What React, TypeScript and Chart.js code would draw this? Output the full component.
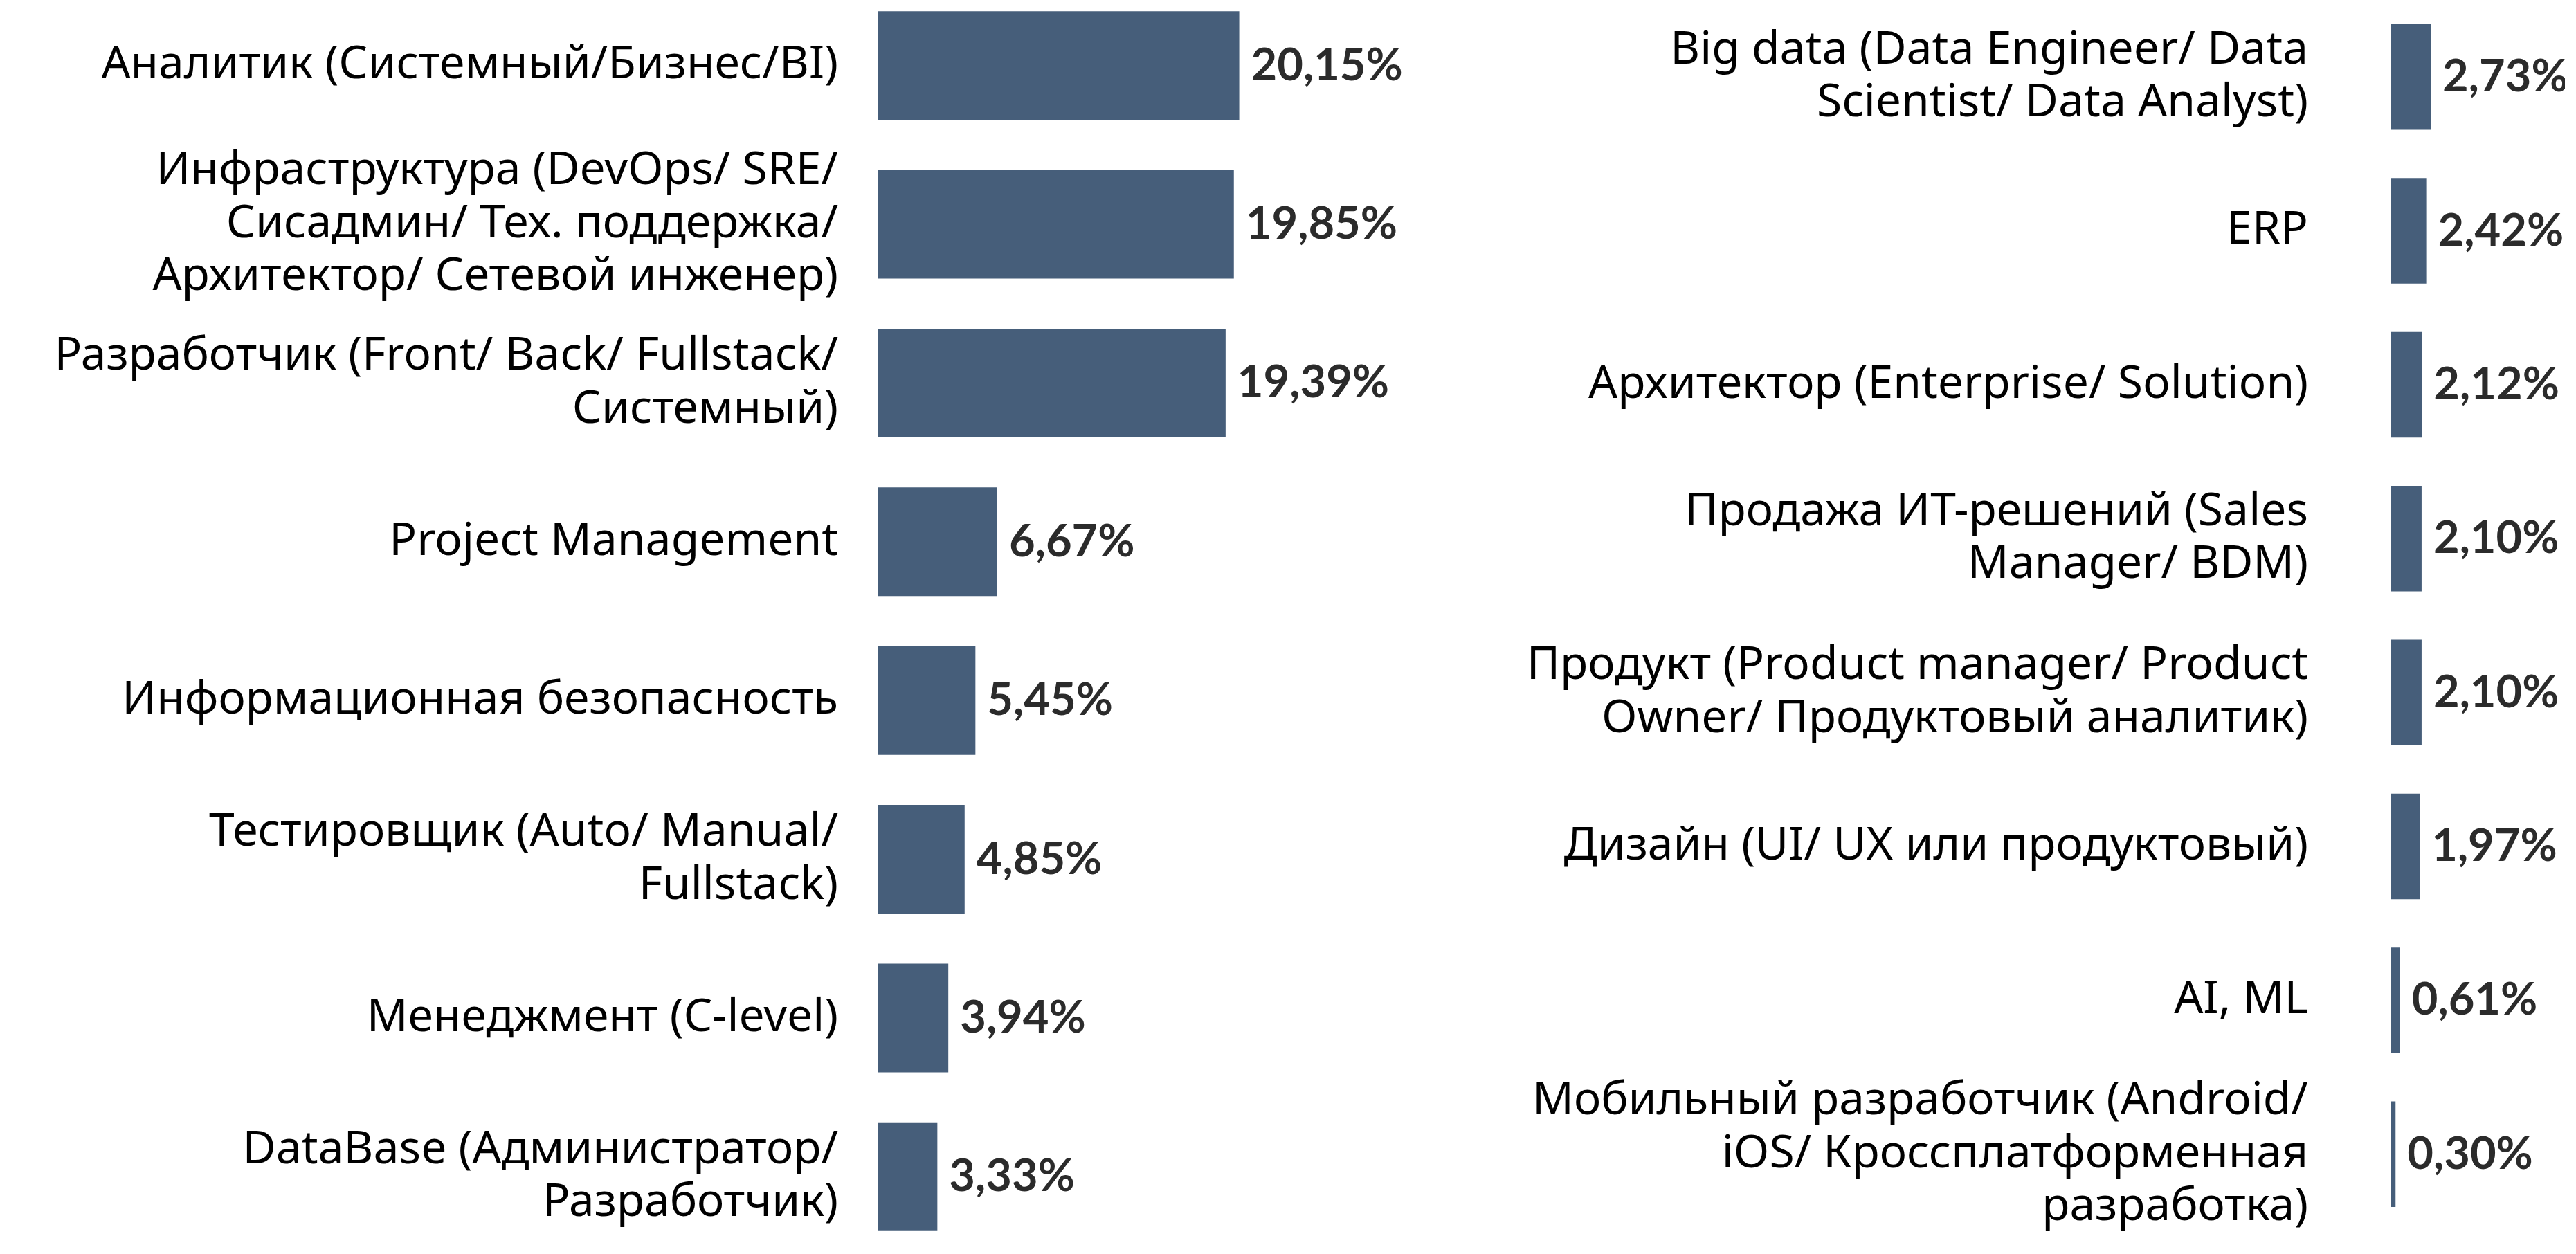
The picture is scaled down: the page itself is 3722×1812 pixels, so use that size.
import React, { useEffect, useRef } from "react";
import { Chart, registerables } from "chart.js";

Chart.register(...registerables);

const leftCategories: (string | string[])[] = [
  "Аналитик (Системный/Бизнес/BI)",
  ["Инфраструктура (DevOps/ SRE/", "Сисадмин/ Тех. поддержка/", "Архитектор/ Сетевой инженер)"],
  ["Разработчик (Front/ Back/ Fullstack/", "Системный)"],
  "Project Management",
  "Информационная безопасность",
  ["Тестировщик (Auto/ Manual/", "Fullstack)"],
  "Менеджмент (C-level)",
  ["DataBase (Администратор/", "Разработчик)"],
];
const leftValues = [20.15, 19.85, 19.39, 6.67, 5.45, 4.85, 3.94, 3.33];

const rightCategories: (string | string[])[] = [
  ["Big data (Data Engineer/ Data", "Scientist/ Data Analyst)"],
  "ERP",
  "Архитектор (Enterprise/ Solution)",
  ["Продажа ИТ-решений (Sales", "Manager/ BDM)"],
  ["Продукт (Product manager/ Product", "Owner/ Продуктовый аналитик)"],
  "Дизайн (UI/ UX или продуктовый)",
  "AI, ML",
  ["Мобильный разработчик (Android/", "iOS/ Кроссплатформенная", "разработка)"],
];
const rightValues = [2.73, 2.42, 2.12, 2.1, 2.1, 1.97, 0.61, 0.3];

const BAR_COLOR = "#465e7a";
const VALUE_COLOR = "#2b2b2b";
const LABEL_COLOR = "#000000";
const VALUE_FONT = "Lato, 'Noto Sans', sans-serif";
const LABEL_FONT = "'Noto Sans', Lato, sans-serif";

const valueLabelPlugin = {
  id: "valueLabels",
  afterDatasetsDraw(chart: any) {
    const ctx = chart.ctx;
    const opts = chart.options.plugins.valueLabels || {};
    ctx.save();
    ctx.font = `bold ${opts.size || 65}px ${VALUE_FONT}`;
    ctx.fillStyle = VALUE_COLOR;
    ctx.textAlign = "left";
    ctx.textBaseline = "middle";
    const meta = chart.getDatasetMeta(0);
    meta.data.forEach((bar: any, i: number) => {
      const v = chart.data.datasets[0].data[i] as number;
      const txt = v.toFixed(2).replace(".", ",") + "%";
      ctx.fillText(txt, bar.x + (opts.offset ?? 17), bar.y + (opts.dy ?? 0));
    });
    ctx.restore();
  },
};

type BarProps = {
  categories: (string | string[])[];
  values: number[];
  axisWidth: number;
  tickPadding: number;
  xMax: number;
  barPct: number;
  width: number;
  height: number;
  left: number;
  top: number;
};

function BarChart(p: BarProps) {
  const ref = useRef<HTMLCanvasElement | null>(null);
  useEffect(() => {
    if (!ref.current) return;
    const chart = new Chart(ref.current, {
      type: "bar",
      data: {
        labels: p.categories,
        datasets: [
          {
            data: p.values,
            backgroundColor: BAR_COLOR,
            borderWidth: 0,
            barPercentage: p.barPct,
            categoryPercentage: 1,
          },
        ],
      },
      options: {
        indexAxis: "y",
        responsive: false,
        animation: false,
        devicePixelRatio: 1,
        layout: { padding: 0 },
        plugins: {
          legend: { display: false },
          tooltip: { enabled: false },
          valueLabels: { offset: 17, size: 65, dy: 0 },
        } as any,
        scales: {
          x: {
            display: false,
            min: 0,
            max: p.xMax,
            grid: { display: false },
          },
          y: {
            position: "left",
            grid: { display: false, drawTicks: false },
            border: { display: false },
            afterFit: (scale: any) => {
              scale.width = p.axisWidth;
              scale.paddingTop = 0;
              scale.paddingBottom = 0;
              scale.paddingLeft = 0;
              scale.paddingRight = 0;
            },
            ticks: {
              padding: p.tickPadding,
              crossAlign: "near",
              color: LABEL_COLOR,
              autoSkip: false,
              font: { family: LABEL_FONT, size: 66, lineHeight: 1.16 },
            },
          },
        },
      },
      plugins: [valueLabelPlugin],
    } as any);
    let alive = true;
    if ((document as any).fonts) {
      Promise.all([
        (document as any).fonts.load(`66px 'Noto Sans'`),
        (document as any).fonts.load(`bold 65px Lato`),
      ]).then(() => {
        if (alive) chart.update();
      });
    }
    return () => {
      alive = false;
      chart.destroy();
    };
  }, []);
  return (
    <canvas
      ref={ref}
      width={p.width}
      height={p.height}
      style={{
        position: "absolute",
        left: p.left,
        top: p.top,
        width: p.width,
        height: p.height,
      }}
    />
  );
}

export default function App() {
  return (
    <div
      style={{
        position: "fixed",
        left: 0,
        top: 0,
        width: 3722,
        height: 1812,
        overflow: "hidden",
        background: "#ffffff",
      }}
    >
      <BarChart
        categories={leftCategories}
        values={leftValues}
        axisWidth={1268}
        tickPadding={57}
        xMax={30}
        barPct={0.685}
        width={2046}
        height={1835}
        left={0}
        top={-20}
      />
      <BarChart
        categories={rightCategories}
        values={rightValues}
        axisWidth={1355}
        tickPadding={120}
        xMax={12}
        barPct={0.686}
        width={1606}
        height={1779}
        left={2100}
        top={0}
      />
    </div>
  );
}
